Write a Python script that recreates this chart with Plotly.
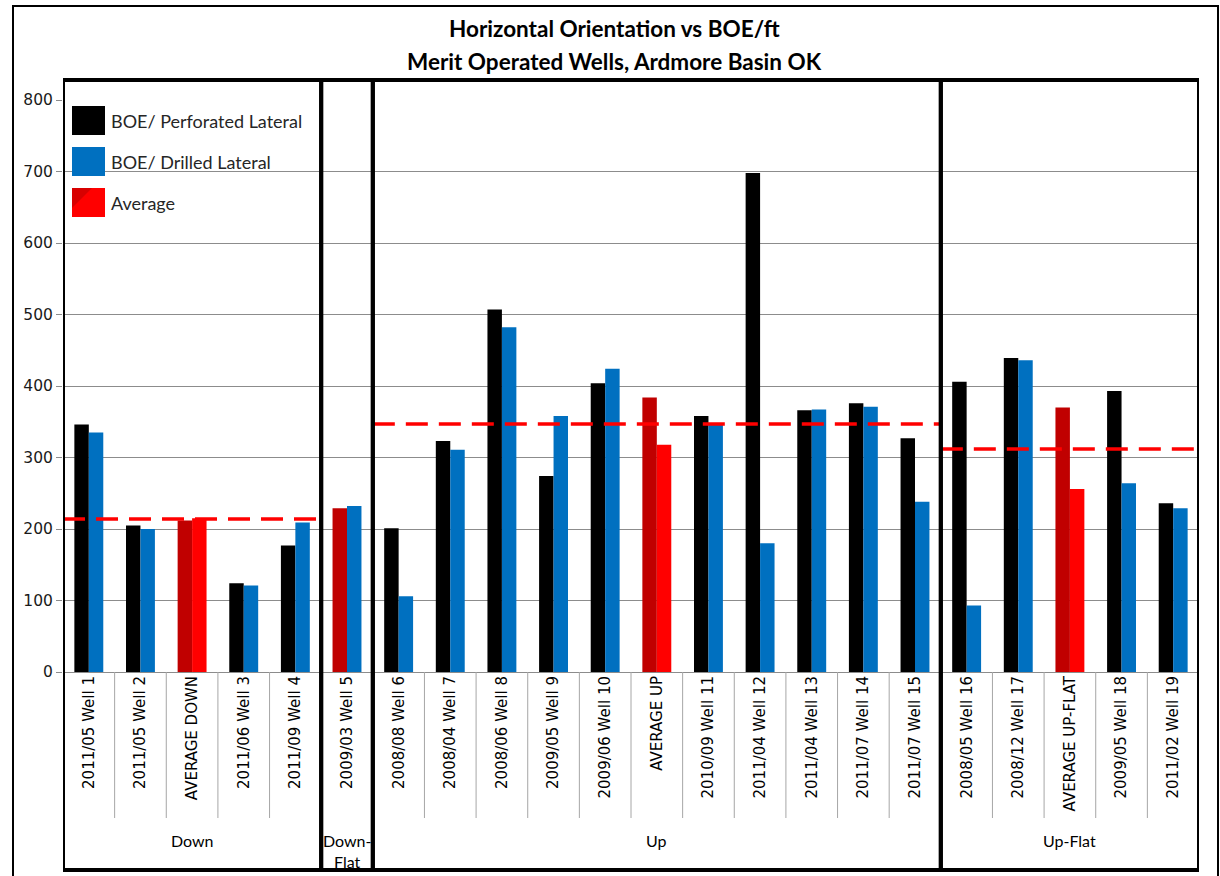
import plotly.graph_objects as go

# ---- data ----
groups = ["Down", "Down-Flat", "Up", "Up-Flat"]
group_titles = ["Down", "Down-<br>Flat", "Up", "Up-Flat"]
group_sizes = [5, 1, 11, 5]
categories = [
    "2011/05 Well 1", "2011/05 Well 2", "AVERAGE DOWN", "2011/06 Well 3", "2011/09 Well 4",
    "2009/03 Well 5",
    "2008/08 Well 6", "2008/04 Well 7", "2008/06 Well 8", "2009/05 Well 9", "2009/06 Well 10",
    "AVERAGE UP", "2010/09 Well 11", "2011/04 Well 12", "2011/04 Well 13", "2011/07 Well 14",
    "2011/07 Well 15",
    "2008/05 Well 16", "2008/12 Well 17", "AVERAGE UP-FLAT", "2009/05 Well 18", "2011/02 Well 19",
]
boe_perforated = [346, 205, 212, 124, 177,
                  229,
                  201, 323, 507, 274, 404, 384, 358, 698, 366, 376, 327,
                  406, 439, 370, 393, 236]
boe_drilled = [335, 200, 215, 121, 209,
               232,
               106, 311, 482, 358, 424, 318, 347, 180, 367, 371, 238,
               93, 436, 256, 264, 229]
group_averages = [214, None, 347, 312]
y_ticks = [0, 100, 200, 300, 400, 500, 600, 700, 800]

BLACK, BLUE, DKRED, RED = "#000000", "#0070C0", "#C00000", "#FF0000"

positions = list(range(len(categories)))
perf_colors, drill_colors = [], []
for c in categories:
    if c.startswith("AVERAGE"):
        perf_colors.append(DKRED); drill_colors.append(RED)
    elif c == "2009/03 Well 5":
        perf_colors.append(DKRED); drill_colors.append(BLUE)
    else:
        perf_colors.append(BLACK); drill_colors.append(BLUE)

fig = go.Figure()
fig.add_trace(go.Bar(x=positions, y=boe_perforated, name="BOE/ Perforated Lateral",
                     marker=dict(color=perf_colors, line=dict(width=0)), showlegend=False))
fig.add_trace(go.Bar(x=positions, y=boe_drilled, name="BOE/ Drilled Lateral",
                     marker=dict(color=drill_colors, line=dict(width=0)), showlegend=False))

# group bounds
bounds = []
s = 0
for n in group_sizes:
    bounds.append((s, s + n - 1))
    s += n

for (a, b), avg in zip(bounds, group_averages):
    if avg is None:
        continue
    fig.add_trace(go.Scatter(x=[a - 0.5, b + 0.5], y=[avg, avg], mode="lines",
                             line=dict(color=RED, width=3.5, dash="22px,11px"),
                             showlegend=False, hoverinfo="skip"))

OFF = 0  # body margin removed via post_script
FW, FH = 1220 - OFF, 876 - OFF
PL, PR, PT, PB = 63, 1199, 100, 672   # page coords of plot area
W, H = PR - PL, PB - PT


def px(xp):
    return (xp - PL) / W


def py(yp):
    return (PB - yp) / H


shapes = []
# outer frame
shapes.append(dict(type="rect", xref="paper", yref="paper", x0=px(13), x1=px(1218),
                   y0=py(900), y1=py(6), line=dict(color="black", width=2), layer="above"))
# thin dividers between categories within groups
for a, b in bounds:
    for i in range(a, b):
        shapes.append(dict(type="line", xref="x", yref="paper", x0=i + 0.5, x1=i + 0.5,
                           y0=0, y1=py(818), line=dict(color="#A6A6A6", width=1)))
# group boxes
for a, b in bounds:
    shapes.append(dict(type="rect", xref="x", yref="paper", x0=a - 0.5, x1=b + 0.5,
                       y0=py(870), y1=py(80), line=dict(color="black", width=4), layer="above"))

# legend swatches
leg_items = [("BOE/ Perforated Lateral", BLACK, 106, 135),
             ("BOE/ Drilled Lateral", BLUE, 147, 176),
             ("Average", RED, 188, 217)]
annotations = []
for label, col, t, bt in leg_items:
    shapes.append(dict(type="rect", xref="paper", yref="paper", x0=px(72), x1=px(105),
                       y0=py(bt), y1=py(t), fillcolor=col, line=dict(width=0)))
    annotations.append(dict(text=label, xref="paper", yref="paper", x=px(109), y=py((t + bt) / 2),
                            xanchor="left", yanchor="middle", showarrow=False,
                            font=dict(family="Lato", size=18, color="#262626")))
# gradient hint on Average swatch
shapes.append(dict(type="path", xref="paper", yref="paper",
                   path=f"M {px(72)},{py(188)} L {px(92)},{py(188)} L {px(72)},{py(208)} Z",
                   fillcolor="#D80000", line=dict(width=0)))

# titles
annotations.append(dict(text="<b>Horizontal Orientation vs BOE/ft</b>", xref="paper", yref="paper",
                        x=px(614), y=py(29), xanchor="center", yanchor="middle", showarrow=False,
                        font=dict(family="Lato", size=22.5, color="black")))
annotations.append(dict(text="<b>Merit Operated Wells, Ardmore Basin OK</b>", xref="paper", yref="paper",
                        x=px(614), y=py(62), xanchor="center", yanchor="middle", showarrow=False,
                        font=dict(family="Lato", size=22.5, color="black")))
# group labels
for (a, b), gt in zip(bounds, group_titles):
    yy = 851 if "<br>" in gt else 840
    annotations.append(dict(text=gt, xref="x", yref="paper", x=(a + b) / 2, y=py(yy),
                            xanchor="center", yanchor="middle", showarrow=False,
                            font=dict(family="Lato", size=16, color="black")))

fig.update_layout(
    width=FW, height=FH,
    margin=dict(l=PL - OFF, r=1220 - PR, t=PT - OFF, b=876 - PB, autoexpand=False),
    paper_bgcolor="white", plot_bgcolor="white",
    barmode="group", bargap=0.44, bargroupgap=0,
    shapes=shapes, annotations=annotations,
    xaxis=dict(range=[-0.5, len(categories) - 0.5], tickvals=positions, ticktext=categories,
               tickangle=-90, showgrid=False, zeroline=False, showline=False, ticks="",
               tickfont=dict(family="DejaVu Sans", size=15, color="black"), fixedrange=True),
    yaxis=dict(range=[0, 800], tickvals=y_ticks, showgrid=True, gridcolor="#8C8C8C", gridwidth=1,
               zeroline=True, zerolinecolor="#8C8C8C", zerolinewidth=1,
               ticks="outside", ticklen=6, tickcolor="#8C8C8C", showline=False,
               tickfont=dict(family="DejaVu Sans", size=15.5, color="#1a1a1a"), fixedrange=True),
)

fig.write_html(
    "out.html",
    config={"displayModeBar": False},
    post_script="document.body.style.margin='0';document.body.style.overflow='hidden';",
)
